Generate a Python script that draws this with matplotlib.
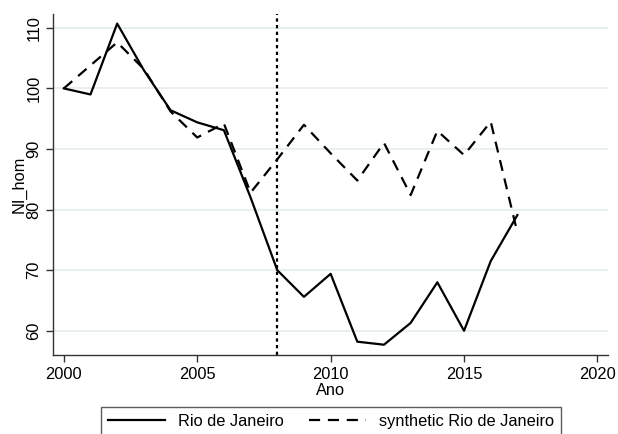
import matplotlib
matplotlib.use("Agg")
import matplotlib.pyplot as plt

plt.rcParams["font.family"] = ["Liberation Sans", "DejaVu Sans"]

years = list(range(2000, 2018))
rio = [100, 99.0, 110.7, 103.0, 96.4, 94.4, 93.1, 82.0, 70.0, 65.6,
       69.4, 58.2, 57.7, 61.3, 68.0, 60.0, 71.5, 79.1]
synthetic = [100, 103.8, 107.6, 103.2, 96.2, 91.9, 94.2, 82.8, 88.3, 94.0,
             89.3, 84.8, 91.0, 82.4, 93.0, 89.0, 94.5, 76.2]
treat_year = 2008
xticks = [2000, 2005, 2010, 2015, 2020]
yticks = [60, 70, 80, 90, 100, 110]

fs = 11.8
fig = plt.figure(figsize=(6.18, 4.34), dpi=100)
ax = fig.add_axes([0.086, 0.182, 0.898, 0.786])

for y in yticks:
    ax.axhline(y, color="#e3ecec", lw=1.2, zorder=0)

ax.plot(years, rio, color="black", lw=1.6, label="Rio de Janeiro")
ax.plot(years, synthetic, color="black", lw=1.6, dashes=(5, 3.5),
        label="synthetic Rio de Janeiro")
ax.axvline(treat_year, color="black", lw=1.6, dashes=(1.5, 1.5))

ax.set_xlim(1999.6, 2020.4)
ax.set_ylim(56, 112.3)
ax.set_xticks(xticks)
ax.set_yticks(yticks)
ax.tick_params(labelsize=fs, length=5, width=1, color="#333333")
for lab in ax.get_yticklabels():
    lab.set_rotation(90)
    lab.set_va("center")
ax.set_xlabel("Ano", fontsize=fs, labelpad=1)
ax.set_ylabel("NI_hom", fontsize=fs, labelpad=0)

for s in ["top", "right"]:
    ax.spines[s].set_visible(False)
for s in ["left", "bottom"]:
    ax.spines[s].set_color("#333333")
    ax.spines[s].set_linewidth(1)

leg = fig.legend(loc="upper center", bbox_to_anchor=(0.5356, 0.0622), ncol=2,
                 fontsize=fs, frameon=True, fancybox=False, handlelength=3.5,
                 handletextpad=0.8, columnspacing=1.5, borderpad=0.4,
                 borderaxespad=0)
leg.get_frame().set_edgecolor("#333333")
leg.get_frame().set_linewidth(1)

fig.savefig("out.png", dpi=100)
